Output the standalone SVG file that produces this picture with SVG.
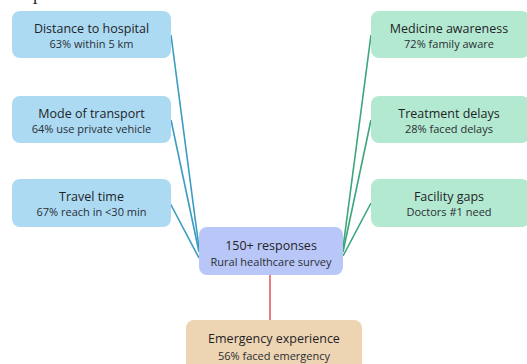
<svg xmlns="http://www.w3.org/2000/svg" width="527" height="364" viewBox="0 0 527 364">
<style>
.t{font-family:"Open Sans","Noto Sans",sans-serif;font-size:12.5px;font-weight:500;fill:#1f2328;text-anchor:middle}
.s{font-family:"Open Sans","Noto Sans",sans-serif;font-size:11px;fill:#2a2e33;text-anchor:middle}
.b{fill:#acdaf3}
.g{fill:#b3e9d1}
.c{fill:#b8c7f7}
.o{fill:#edd4b2}
.lb{stroke:#3a9cc0;stroke-width:1.6;fill:none}
.lg{stroke:#3ba67b;stroke-width:1.6;fill:none}
.lr{stroke:#e06060;stroke-width:1.6;fill:none}
</style>
<rect width="527" height="364" fill="#ffffff"/>
<text x="33" y="0" font-family="Liberation Serif,serif" font-size="18" fill="#222">p</text>
<g id="connectors">
<line class="lb" x1="171" y1="35" x2="199" y2="248"/>
<line class="lb" x1="171" y1="120" x2="199" y2="252"/>
<line class="lb" x1="170" y1="203" x2="199" y2="258"/>
<line class="lg" x1="371" y1="35" x2="343" y2="248"/>
<line class="lg" x1="371" y1="120" x2="343" y2="252"/>
<line class="lg" x1="371" y1="203" x2="343" y2="256"/>
<line class="lr" x1="270" y1="275" x2="270" y2="320"/>
</g>
<g id="distance">
<rect class="b" x="12" y="11" width="159" height="47" rx="8"/>
<text class="t" x="91.5" y="33">Distance to hospital</text>
<text class="s" x="91.5" y="48">63% within 5 km</text>
</g>
<g id="transport">
<rect class="b" x="12" y="96" width="159" height="47" rx="8"/>
<text class="t" x="91.5" y="118">Mode of transport</text>
<text class="s" x="91.5" y="133">64% use private vehicle</text>
</g>
<g id="travel">
<rect class="b" x="12" y="179" width="159" height="48" rx="8"/>
<text class="t" x="91.5" y="201">Travel time</text>
<text class="s" x="91.5" y="216">67% reach in &lt;30 min</text>
</g>
<g id="medicine">
<rect class="g" x="371" y="11" width="159" height="47" rx="8"/>
<text class="t" x="449" y="33">Medicine awareness</text>
<text class="s" x="449" y="48">72% family aware</text>
</g>
<g id="delays">
<rect class="g" x="371" y="96" width="159" height="47" rx="8"/>
<text class="t" x="449" y="118">Treatment delays</text>
<text class="s" x="449" y="133">28% faced delays</text>
</g>
<g id="facility">
<rect class="g" x="371" y="179" width="159" height="48" rx="8"/>
<text class="t" x="449" y="201">Facility gaps</text>
<text class="s" x="449" y="216">Doctors #1 need</text>
</g>
<g id="center">
<rect class="c" x="199" y="227" width="144" height="48" rx="8"/>
<text class="t" x="271" y="250" font-size="13">150+ responses</text>
<text class="s" x="271" y="266">Rural healthcare survey</text>
</g>
<g id="emergency">
<rect class="o" x="186" y="320" width="176" height="54" rx="8"/>
<text class="t" x="274" y="343" font-size="13">Emergency experience</text>
<text class="s" x="274" y="360">56% faced emergency</text>
</g>
</svg>
